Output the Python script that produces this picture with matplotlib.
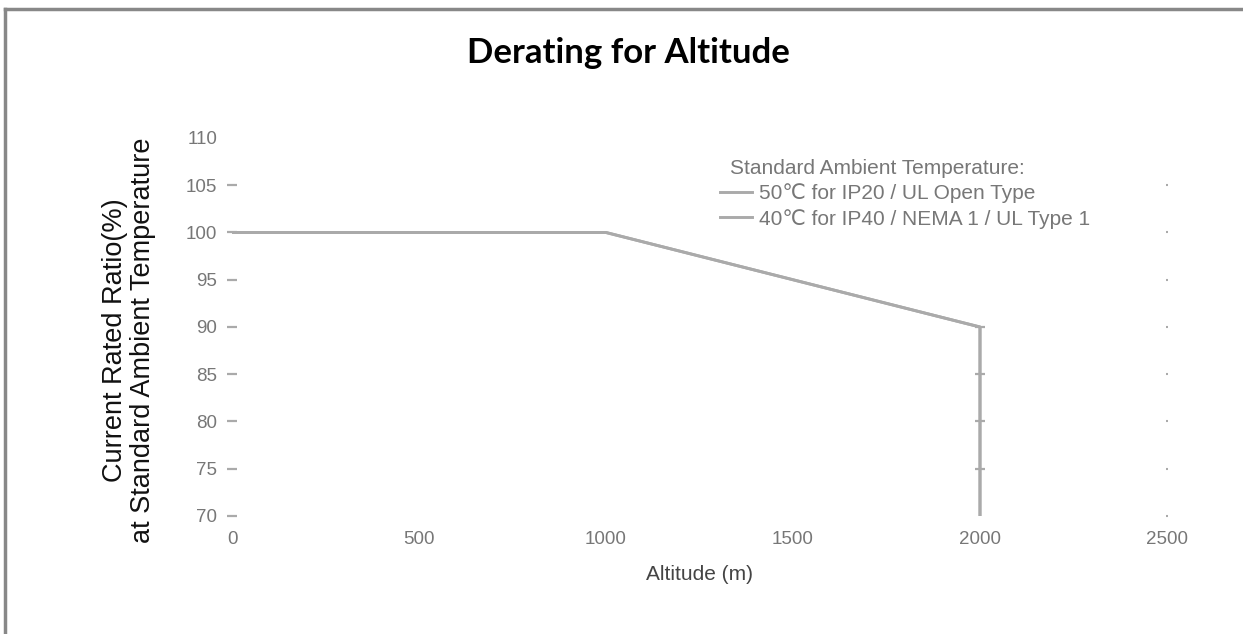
import numpy as np
import matplotlib.pyplot as plt
from matplotlib.lines import Line2D

plt.rcParams['font.family'] = ['Liberation Sans', 'DejaVu Sans']

# Data
altitude = [0, 1000, 2000, 2000, 2000, 2000, 2000]
ratio_ip20 = [100, 100, 90, 85, 80, 75, 70]
ratio_ip40 = [100, 100, 90, 85, 80, 75, 70]
x_ticks = [0, 500, 1000, 1500, 2000, 2500]
y_ticks = [70, 75, 80, 85, 90, 95, 100, 105, 110]
labels = ['50\u2103 for IP20 / UL Open Type', '40\u2103 for IP40 / NEMA 1 / UL Type 1']

W, H = 1243, 634
line_color = '#aaaaaa'
text_gray = '#777777'

fig = plt.figure(figsize=(W / 100, H / 100), dpi=100)
ax = fig.add_axes([232 / W, 1 - 516 / H, (1167 - 232) / W, (516 - 138) / H])

ax.plot(altitude, ratio_ip20, color=line_color, lw=2.1, label=labels[0],
        marker='_', markersize=7, markeredgewidth=1.6, markevery=[2, 3, 4, 5])
ax.plot(altitude, ratio_ip40, color=line_color, lw=2.1, label=labels[1])

ax.set_xlim(0, 2500)
ax.set_ylim(70, 110)
ax.set_xticks(x_ticks)
ax.set_yticks(y_ticks)
for s in ax.spines.values():
    s.set_visible(False)

ax.tick_params(axis='x', length=0, pad=11, labelsize=13.5, labelcolor=text_gray)
ax.tick_params(axis='y', direction='inout', length=7, width=1.6, color=line_color,
               pad=7, labelsize=13.5, labelcolor=text_gray)
# small marks on the right edge
ax.tick_params(axis='y', right=True, labelright=False)
for t in ax.yaxis.get_major_ticks():
    t.tick2line.set_markersize(1.5)
    t.tick2line.set_markeredgewidth(1.5)
top = ax.yaxis.get_major_ticks()[-1]
top.tick1line.set_visible(False)
top.tick2line.set_visible(False)

ax.set_xlabel('Altitude (m)', fontsize=15, color='#444444', labelpad=12)

fig.text(129 / W, 1 - 340 / H,
         'Current Rated Ratio(%)\nat Standard Ambient Temperature',
         rotation=90, ha='center', va='center', fontsize=19.5,
         color='#111111', linespacing=1.05)

# legend
fig.text(730 / W, 1 - 168 / H, 'Standard Ambient Temperature:', ha='left',
         va='center', fontsize=15, color=text_gray)
leg = fig.legend(loc='upper left', bbox_to_anchor=(720 / W, 1 - 183 / H),
                 frameon=False, fontsize=15, handlelength=1.55,
                 handletextpad=0.34, labelspacing=0.28, borderpad=0,
                 borderaxespad=0)
for t in leg.get_texts():
    t.set_color(text_gray)
for h in leg.legend_handles:
    h.set_marker('')

fig.text(628 / W, 1 - 63 / H, 'Derating for Altitude', ha='center', va='baseline',
         fontsize=25, fontweight='bold', family=['Lato', 'DejaVu Sans'])

# outer frame (top and left edges visible)
fig.add_artist(Line2D([5 / W, 5 / W], [0, 1 - 9 / H],
                      transform=fig.transFigure, color='#888888', lw=2.5))
fig.add_artist(Line2D([5 / W, 1], [1 - 9 / H, 1 - 9 / H],
                      transform=fig.transFigure, color='#888888', lw=2.5))

fig.savefig('out.png', dpi=100)
